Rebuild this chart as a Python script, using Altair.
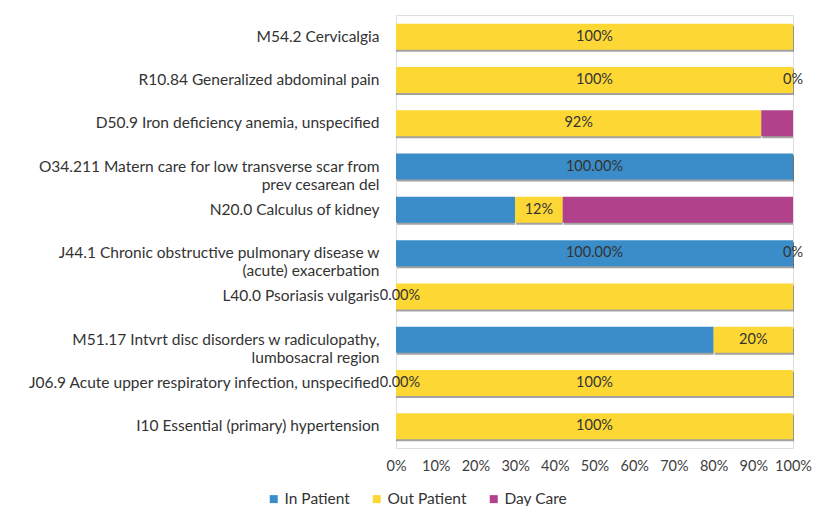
import altair as alt
import pandas as pd

categories = [
    "M54.2 Cervicalgia",
    "R10.84 Generalized abdominal pain",
    "D50.9 Iron deficiency anemia, unspecified",
    "O34.211 Matern care for low transverse scar from|prev cesarean del",
    "N20.0 Calculus of kidney",
    "J44.1 Chronic obstructive pulmonary disease w|(acute) exacerbation",
    "L40.0 Psoriasis vulgaris",
    "M51.17 Intvrt disc disorders w radiculopathy,|lumbosacral region",
    "J06.9 Acute upper respiratory infection, unspecified",
    "I10 Essential (primary) hypertension",
]
series = ["In Patient", "Out Patient", "Day Care"]
in_patient = [0, 0, 0, 100, 30, 100, 0, 80, 0, 0]
out_patient = [100, 100, 92, 0, 12, 0, 100, 20, 100, 100]
day_care = [0, 0, 8, 0, 58, 0, 0, 0, 0, 0]
in_labels = ["", "", "", "100.00%", "", "100.00%", "0.00%", "", "0.00%", ""]
out_labels = ["100%", "100%", "92%", "", "12%", "", "", "20%", "100%", "100%"]
day_labels = ["", "0%", "", "", "", "0%", "", "", "", ""]
tick_values = [0, 10, 20, 30, 40, 50, 60, 70, 80, 90, 100]
colors = ["#3A8DC8", "#FDD835", "#B0418A"]

rows = []
for i, c in enumerate(categories):
    for k, (s, vals, labs) in enumerate(zip(series, [in_patient, out_patient, day_care],
                                             [in_labels, out_labels, day_labels])):
        rows.append({"cat": c, "series": s, "value": vals[i] / 100.0,
                     "label": labs[i], "ord": k})
df = pd.DataFrame(rows)

font = "Lato"

base = alt.Chart(df).transform_stack(
    stack="value", groupby=["cat"], as_=["x0", "x1"],
    sort=[alt.SortField("ord", order="ascending")]
)

y_axis = alt.Axis(labelExpr="split(datum.label, '|')", labelLimit=400,
                  labelFontSize=15.5, labelColor="#333333", labelFont=font,
                  labelPadding=17, ticks=False, domain=False,
                  labelLineHeight=18)
y_scale = alt.Scale(paddingInner=0.4, paddingOuter=0.2)
y_enc = alt.Y("cat:N", sort=categories, title=None, scale=y_scale, axis=y_axis)

x_axis = alt.Axis(format=".0%", values=[v / 100 for v in tick_values],
                  grid=False, ticks=False, domain=False,
                  labelOverlap=False, labelFlush=False,
                  labelFontSize=14.5, labelColor="#404040", labelFont=font,
                  labelPadding=11)
x_scale = alt.Scale(domain=[0, 1], nice=False)
x_enc = alt.X("x0:Q", title=None, scale=x_scale, axis=x_axis)

shadow = base.mark_bar(color="#555555", opacity=0.55, yOffset=2, xOffset=1).encode(
    y=y_enc, x=x_enc, x2="x1:Q"
)

bars = base.mark_bar().encode(
    y=y_enc,
    x=x_enc,
    x2="x1:Q",
    color=alt.Color("series:N", sort=series,
                    scale=alt.Scale(domain=series, range=colors),
                    legend=alt.Legend(title=None, orient="none", direction="horizontal",
                                      legendX=-130, legendY=476,
                                      symbolType="square", symbolSize=64,
                                      symbolStrokeWidth=0, labelOffset=3,
                                      labelFontSize=15.5, labelColor="#333333",
                                      labelFont=font, columnPadding=19)),
)

labelled = base.transform_filter("datum.label != ''").transform_calculate(
    mid="(datum.x0 + datum.x1) / 2"
)

texts = labelled.transform_filter("!(datum.ord == 0 && datum.value == 0)").mark_text(
    fontSize=14.5, font=font, color="#333333"
).encode(
    y=alt.Y("cat:N", sort=categories, title=None, scale=y_scale, axis=y_axis),
    x=alt.X("mid:Q", title=None, scale=x_scale, axis=x_axis),
    text="label:N",
)

zero_texts = labelled.transform_filter("datum.ord == 0 && datum.value == 0").mark_text(
    fontSize=14.5, font=font, color="#333333", dx=4
).encode(
    y=alt.Y("cat:N", sort=categories, title=None, scale=y_scale, axis=y_axis),
    x=alt.X("mid:Q", title=None, scale=x_scale, axis=x_axis),
    text="label:N",
)

chart = alt.layer(shadow, bars, texts, zero_texts).properties(
    width=397, height=433,
    autosize=alt.AutoSizeParams(type="none"),
    padding={"left": 388, "top": 7, "right": 20, "bottom": 60},
).configure_view(stroke=None).configure_axisX(labelOverlap=False).configure(background="white")

chart.save("out.html", embed_options={"renderer": "svg", "actions": False})
